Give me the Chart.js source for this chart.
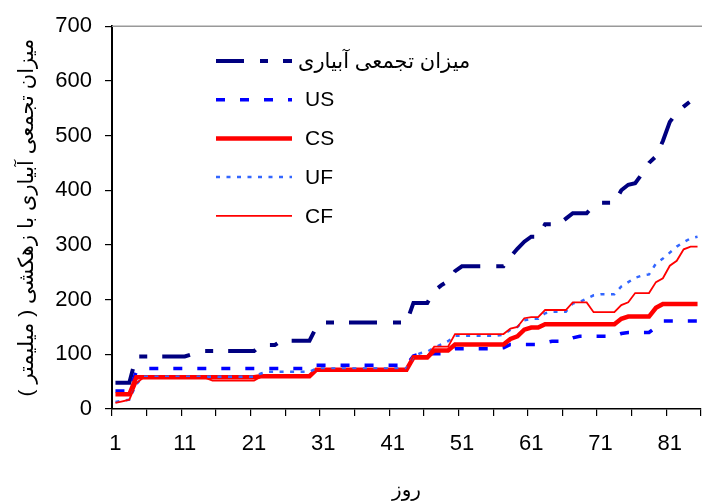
<!DOCTYPE html>
<html>
<head>
<meta charset="utf-8">
<script src="https://cdn.jsdelivr.net/npm/chart.js@4.4.0/dist/chart.umd.min.js"></script>
<style>
  html, body { margin: 0; padding: 0; background: #fff; }
  #wrap { width: 702px; height: 502px; }
</style>
</head>
<body>
<div id="wrap"><canvas id="irrigationChart" width="702" height="502"></canvas></div>
<script>
// days 1..85 on the category axis
const days = Array.from({ length: 85 }, (_, i) => i + 1);

const irrigation = [
  48, 48, 48, 96, 96, 96, 96, 96, 96, 96,
  96, 100, 106, 106, 106, 106, 106, 106, 106, 106,
  106, 117, 117, 117, 125, 125, 125, 125, 125, 150,
  158, 158, 158, 158, 158, 158, 158, 158, 158, 158,
  158, 158, 158, 194, 194, 194, 216, 226, 234, 252,
  261, 261, 261, 261, 261, 261, 261, 278, 293, 306,
  315, 315, 338, 338, 338, 348, 358, 358, 358, 372,
  377, 377, 377, 400, 410, 413, 430, 450, 462, 490,
  525, 542, 553, 563, 572
];
const us = [
  33, 33, 33, 68, 74, 74, 74, 74, 74, 74,
  74, 74, 74, 74, 74, 74, 74, 74, 74, 74,
  74, 74, 74, 74, 74, 74, 74, 74, 74, 80,
  80, 80, 80, 80, 80, 80, 80, 80, 80, 80,
  80, 80, 80, 97, 101, 101, 101, 101, 106, 110,
  110, 110, 110, 110, 110, 110, 112, 118, 118, 118,
  118, 118, 121, 124, 124, 124, 130, 133, 133, 133,
  133, 133, 133, 138, 140, 140, 140, 140, 150, 161,
  161, 161, 161, 161, 161
];
const cs = [
  27, 27, 27, 58, 58, 58, 58, 58, 58, 58,
  58, 58, 58, 58, 58, 58, 58, 58, 58, 58,
  58, 60, 60, 60, 60, 60, 60, 60, 60, 72,
  72, 72, 72, 72, 72, 72, 72, 72, 72, 72,
  72, 72, 72, 94, 94, 94, 107, 107, 107, 118,
  118, 118, 118, 118, 118, 118, 118, 128, 133, 145,
  149, 149, 155, 155, 155, 155, 155, 155, 155, 155,
  155, 155, 155, 165, 169, 169, 169, 169, 185, 192,
  192, 192, 192, 192, 192
];
const uf = [
  13, 15, 17, 45, 59, 59, 59, 59, 59, 59,
  59, 59, 59, 59, 59, 59, 59, 59, 59, 59,
  59, 65, 68, 68, 68, 68, 68, 68, 68, 74,
  74, 74, 74, 74, 74, 74, 74, 74, 74, 74,
  74, 74, 74, 96, 102, 105, 112, 118, 124, 134,
  134, 134, 134, 134, 134, 134, 136, 145, 150, 162,
  165, 165, 175, 178, 178, 178, 193, 196, 202, 208,
  210, 210, 210, 224, 232, 240, 244, 246, 266, 275,
  286, 297, 305, 312, 315
];
const cf = [
  11, 14, 17, 47, 57, 57, 57, 57, 57, 57,
  57, 57, 57, 57, 52, 52, 52, 52, 52, 52,
  52, 59, 59, 59, 59, 59, 59, 59, 59, 71,
  71, 71, 71, 71, 71, 71, 71, 71, 71, 71,
  71, 71, 71, 97, 97, 97, 114, 114, 114, 137,
  137, 137, 137, 137, 137, 137, 137, 147, 150, 166,
  168, 168, 181, 181, 181, 181, 195, 195, 195, 177,
  177, 177, 177, 190, 195, 212, 212, 212, 232, 239,
  262, 271, 292, 297, 297
];

const yTicks = [0, 100, 200, 300, 400, 500, 600, 700];

const seriesNames = ['میزان تجمعی آبیاری', 'US', 'CS', 'UF', 'CF'];
const yTitle = 'میزان تجمعی آبیاری با زهکشی ( میلیمتر )';
const xTitle = 'روز';

const fontFamily = "'Liberation Sans', Arial, 'DejaVu Sans', sans-serif";

// legend drawn inside the plot, like the original
const insideLegend = {
  id: 'insideLegend',
  afterDatasetsDraw(chart) {
    const ctx = chart.ctx;
    ctx.save();
    chart.data.datasets.forEach((ds, i) => {
      const y = 61 + i * 38.7;
      ctx.beginPath();
      ctx.setLineDash(ds.borderDash || []);
      ctx.lineCap = 'butt';
      ctx.lineWidth = ds.borderWidth;
      ctx.strokeStyle = ds.borderColor;
      ctx.moveTo(216, y);
      ctx.lineTo(292, y);
      ctx.stroke();
      ctx.setLineDash([]);
      ctx.fillStyle = '#000';
      ctx.font = '21px ' + fontFamily;
      ctx.textBaseline = 'middle';
      ctx.textAlign = 'left';
      ctx.fillText(ds.label, i === 0 ? 298 : 305, y + 1);
    });
    ctx.restore();
  }
};

// grey top edge of the plot area
const plotFrame = {
  id: 'plotFrame',
  beforeDatasetsDraw(chart) {
    const { ctx, chartArea } = chart;
    ctx.save();
    ctx.strokeStyle = '#999';
    ctx.lineWidth = 1.5;
    ctx.beginPath();
    ctx.moveTo(chartArea.left, chartArea.top);
    ctx.lineTo(702, chartArea.top);
    ctx.stroke();
    ctx.restore();
  }
};

const ctx = document.getElementById('irrigationChart').getContext('2d');

new Chart(ctx, {
  type: 'line',
  data: {
    labels: days,
    datasets: [
      { label: seriesNames[0], data: irrigation, borderColor: '#000080', borderWidth: 4, borderDash: [28, 16, 8, 15], order: 5 },
      { label: seriesNames[1], data: us, borderColor: '#0000FF', borderWidth: 3.5, borderDash: [9, 15], order: 4 },
      { label: seriesNames[2], data: cs, borderColor: '#FF0000', borderWidth: 4.5, order: 3 },
      { label: seriesNames[3], data: uf, borderColor: '#3366FF', borderWidth: 2.5, borderDash: [4, 6.5], order: 2 },
      { label: seriesNames[4], data: cf, borderColor: '#FF0000', borderWidth: 1.8, order: 1 }
    ]
  },
  options: {
    responsive: false,
    animation: false,
    layout: { padding: { top: 26, right: 1, left: 0, bottom: 0 } },
    elements: {
      point: { radius: 0 },
      line: { tension: 0, fill: false, borderCapStyle: 'butt' }
    },
    plugins: {
      legend: { display: false },
      tooltip: { enabled: false }
    },
    scales: {
      x: {
        offset: true,
        grid: {
          offset: true,
          drawOnChartArea: false,
          tickLength: 7,
          lineWidth: 1.2,
          color: (c) => (c.tick ? (c.index % 5 === 0 ? '#000' : 'rgba(0,0,0,0)') : '#000')
        },
        border: { color: '#000', width: 1.5 },
        ticks: {
          autoSkip: false,
          maxRotation: 0,
          minRotation: 0,
          padding: 15,
          color: '#000',
          font: { family: fontFamily, size: 22 },
          callback: (v, i) => (i % 10 === 0 ? String(days[i]) : '')
        },
        title: {
          display: true,
          text: xTitle,
          color: '#000',
          font: { family: fontFamily, size: 20 },
          padding: { top: 0, bottom: 0 }
        },
        afterFit: (scale) => {
          scale.height = 93;
          scale.paddingLeft = 0;
          scale.paddingRight = 0;
        }
      },
      y: {
        min: 0,
        max: 700,
        afterBuildTicks: (scale) => { scale.ticks = yTicks.map(v => ({ value: v })); },
        grid: { drawOnChartArea: false, tickLength: 7, color: '#000', lineWidth: 1.2 },
        border: { color: '#000', width: 2 },
        ticks: {
          padding: 13,
          color: '#000',
          font: { family: fontFamily, size: 22 }
        },
        title: {
          display: true,
          text: yTitle,
          color: '#000',
          font: { family: fontFamily, size: 21 },
          padding: { top: 15, bottom: 0 }
        },
        afterFit: (scale) => { scale.width = 112; }
      }
    }
  },
  plugins: [plotFrame, insideLegend]
});
</script>
</body>
</html>
